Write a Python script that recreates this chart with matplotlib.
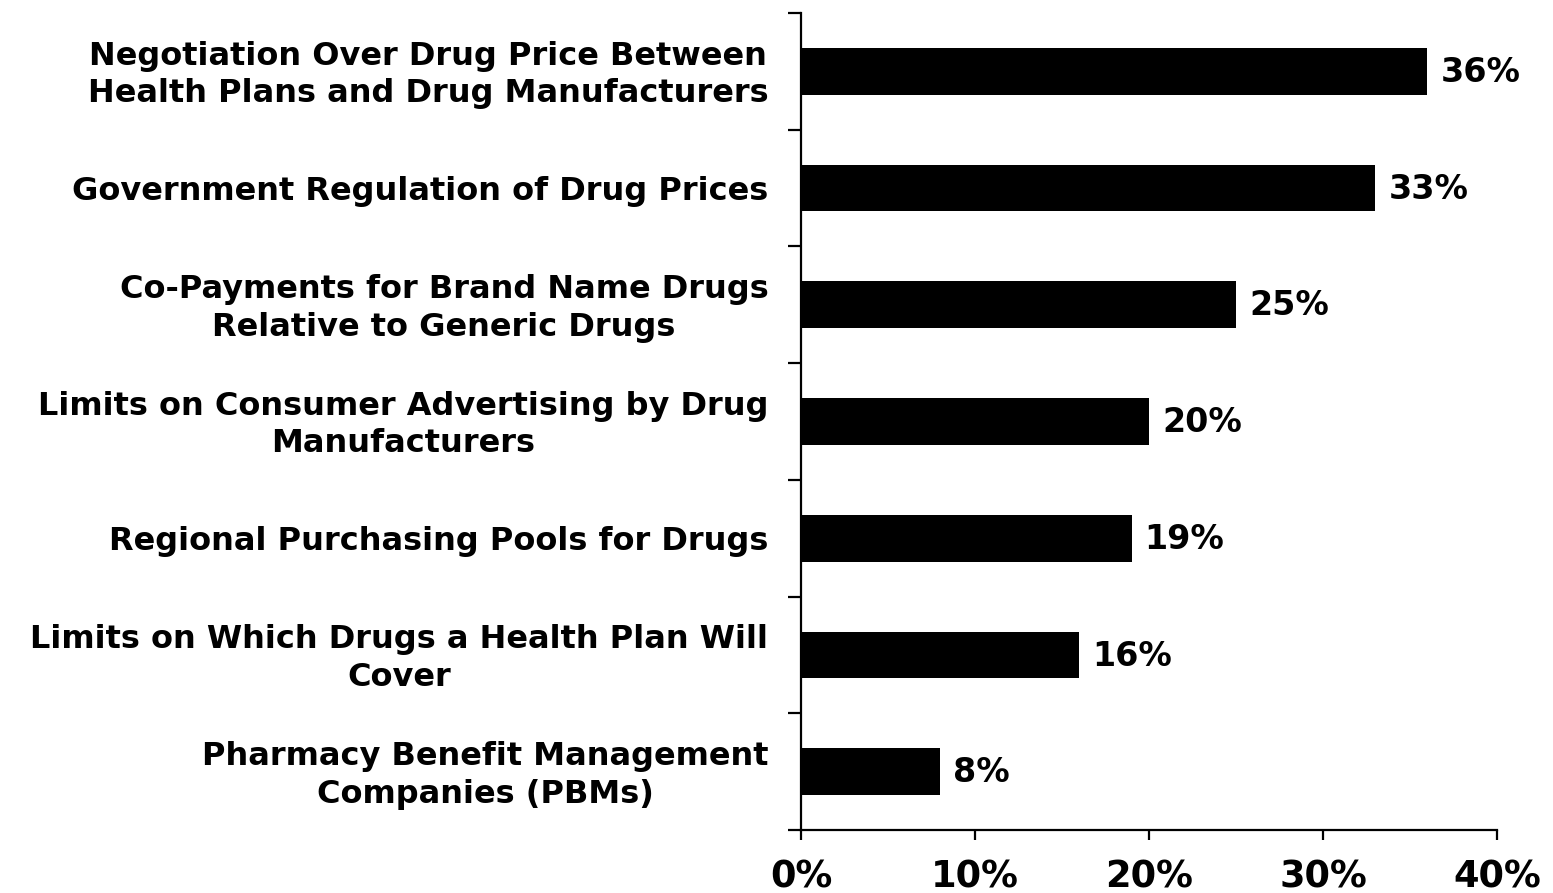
import matplotlib
matplotlib.use("Agg")
import matplotlib.pyplot as plt
from matplotlib.ticker import FuncFormatter

categories = [
    "Negotiation Over Drug Price Between\nHealth Plans and Drug Manufacturers",
    "Government Regulation of Drug Prices",
    "Co-Payments for Brand Name Drugs\nRelative to Generic Drugs",
    "Limits on Consumer Advertising by Drug\nManufacturers",
    "Regional Purchasing Pools for Drugs",
    "Limits on Which Drugs a Health Plan Will\nCover",
    "Pharmacy Benefit Management\nCompanies (PBMs)",
]
values = [36, 33, 25, 20, 19, 16, 8]
xticks = [0, 10, 20, 30, 40]

plt.rcParams["font.family"] = ["DejaVu Sans"]
plt.rcParams["font.weight"] = "bold"

fig = plt.figure(figsize=(15.53, 8.93), dpi=100)
ax = fig.add_axes([0.5158, 0.0705, 0.964 - 0.5158, 0.9854 - 0.0705])

n = len(categories)
ypos = list(range(n))
ax.barh(ypos, values, height=0.4, color="black")

for y, v in zip(ypos, values):
    ax.text(v + 0.75, y + 0.01, f"{v}%", va="center", ha="left",
            fontsize=24, fontweight="bold", color="black")

ax.set_xlim(0, 40)
ax.set_ylim(n - 0.5, -0.5)
ax.set_xticks(xticks)
ax.xaxis.set_major_formatter(FuncFormatter(lambda x, _: f"{int(x)}%"))

# category labels centered between boundary ticks
ax.set_yticks([i + 0.5 for i in range(-1, n)])
ax.set_yticklabels([])
for y, lab in zip(ypos, categories):
    ax.text(-0.047, y + 0.03, lab, transform=ax.get_yaxis_transform(),
            ha="right", va="center", multialignment="center",
            fontsize=23, fontweight="bold", linespacing=1.28)

for s in ["top", "right"]:
    ax.spines[s].set_visible(False)
for s in ["left", "bottom"]:
    ax.spines[s].set_linewidth(1.6)

ax.tick_params(axis="y", direction="out", length=9.5, width=1.6)
ax.tick_params(axis="x", direction="out", length=7.5, width=1.6,
               pad=13, labelsize=26.5)
for t in ax.get_xticklabels():
    t.set_fontweight("bold")

fig.savefig("out.png", dpi=100)
